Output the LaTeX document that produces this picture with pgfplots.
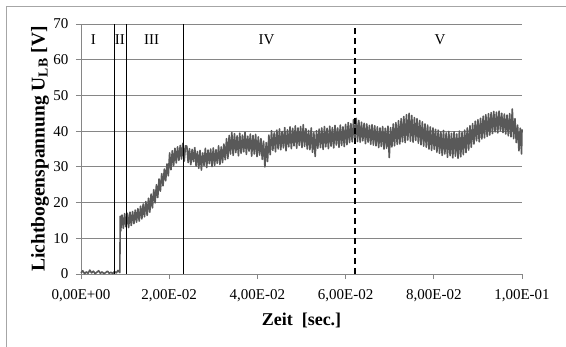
\documentclass[border=0pt]{standalone}
\usepackage{pgfplots}
\pgfplotsset{compat=1.18}
\usepackage{pgfplotstable}
\usepackage{fontspec}
\setmainfont{Liberation Serif}
\definecolor{gridc}{HTML}{868686}
\definecolor{datac}{HTML}{595959}
\definecolor{framec}{HTML}{A6A6A6}

\pgfplotstableread{
t u
0 0.3
0.0004 0.9
0.0008 0.1
0.0012 0.6
0.0016 0.2
0.0020 1.1
0.0024 0.3
0.0028 0.8
0.0032 0.1
0.0036 0.5
0.0040 0.9
0.0044 0.2
0.0048 0.6
0.0052 0.1
0.0056 0.4
0.0060 0.8
0.0064 0.2
0.0068 0.5
0.0072 0.1
0.0076 0.7
0.0080 0.3
0.0084 1.0
0.0088 0.4
0.0089 16.2
0.0090 12.0
0.0093 16.5
0.0096 12.8
0.0099 16.9
0.0102 13.2
0.0105 17.0
0.0108 13.0
0.0111 17.3
0.0114 13.6
0.0117 17.5
0.0120 14.1
0.0123 17.9
0.0126 14.5
0.0129 18.3
0.0132 14.8
0.0135 19.0
0.0138 15.4
0.0141 19.6
0.0144 16.0
0.0147 20.3
0.0150 16.4
0.0153 21.2
0.0156 17.3
0.0159 22.4
0.0162 18.5
0.0165 23.6
0.0168 19.9
0.0171 25.0
0.0174 21.4
0.0177 26.6
0.0180 23.2
0.0183 28.1
0.0186 24.7
0.0189 29.4
0.0192 26.1
0.0195 30.8
0.0198 27.5
0.0201 33.9
0.0204 29.2
0.0207 34.5
0.0210 30.3
0.0213 35.2
0.0216 31.1
0.0219 35.6
0.0222 31.8
0.0225 36.0
0.0228 32.2
0.0231 36.6
0.0234 31.6
0.0237 35.9
0.0240 35.8
0.0243 31.2
0.0246 35.1
0.0249 30.6
0.0252 34.9
0.0255 31.5
0.0258 35.4
0.0261 30.2
0.0264 34.3
0.0267 29.6
0.0270 34.6
0.0273 29.1
0.0276 33.9
0.0279 30.4
0.0282 35.2
0.0285 29.8
0.0288 34.7
0.0291 30.9
0.0294 35.0
0.0297 30.1
0.0300 35.3
0.0303 30.4
0.0306 34.8
0.0309 31.0
0.0312 35.9
0.0315 30.7
0.0318 35.6
0.0321 31.2
0.0324 36.4
0.0327 32.0
0.0330 37.9
0.0333 32.3
0.0336 38.8
0.0339 33.6
0.0342 39.6
0.0345 33.2
0.0348 39.3
0.0351 34.0
0.0354 38.7
0.0357 33.1
0.0360 39.4
0.0363 33.8
0.0366 38.9
0.0369 34.2
0.0372 39.7
0.0375 33.5
0.0378 38.6
0.0381 34.4
0.0384 39.2
0.0387 33.0
0.0390 38.8
0.0393 33.6
0.0396 39.1
0.0399 32.9
0.0402 38.4
0.0405 33.3
0.0408 37.9
0.0411 32.1
0.0414 37.2
0.0417 30.0
0.0420 36.8
0.0423 31.5
0.0426 38.9
0.0429 33.4
0.0432 40.1
0.0435 34.6
0.0438 39.5
0.0441 34.2
0.0444 40.3
0.0447 35.0
0.0450 40.6
0.0453 34.8
0.0456 39.9
0.0459 35.3
0.0462 41.0
0.0465 34.5
0.0468 40.4
0.0471 35.6
0.0474 41.2
0.0477 35.1
0.0480 40.8
0.0483 35.9
0.0486 41.5
0.0489 35.2
0.0492 40.9
0.0495 36.0
0.0498 41.3
0.0501 35.4
0.0504 41.8
0.0507 35.7
0.0510 40.7
0.0513 35.0
0.0516 40.2
0.0519 34.8
0.0522 40.9
0.0525 34.1
0.0528 39.6
0.0531 32.9
0.0534 40.1
0.0537 35.2
0.0540 40.6
0.0543 35.4
0.0546 40.9
0.0549 34.9
0.0552 41.3
0.0555 35.6
0.0558 40.8
0.0561 35.1
0.0564 41.4
0.0567 35.8
0.0570 41.0
0.0573 35.3
0.0576 41.6
0.0579 36.1
0.0582 40.9
0.0585 35.5
0.0588 41.7
0.0591 36.0
0.0594 41.2
0.0597 35.7
0.0600 41.9
0.0603 36.2
0.0606 42.4
0.0609 36.8
0.0612 42.1
0.0615 37.0
0.0618 43.2
0.0621 37.4
0.0624 43.6
0.0627 37.1
0.0630 43.0
0.0633 36.9
0.0636 42.5
0.0639 37.3
0.0642 42.2
0.0645 36.5
0.0648 42.0
0.0651 36.9
0.0654 41.6
0.0657 36.3
0.0660 41.8
0.0663 36.1
0.0666 41.5
0.0669 35.9
0.0672 41.2
0.0675 35.4
0.0678 40.9
0.0681 35.7
0.0684 41.3
0.0687 35.0
0.0690 40.8
0.0693 35.2
0.0696 41.4
0.0699 32.6
0.0702 41.0
0.0705 35.6
0.0708 42.0
0.0711 35.9
0.0714 42.4
0.0717 36.3
0.0720 42.9
0.0723 36.4
0.0726 43.5
0.0729 37.0
0.0732 44.1
0.0735 36.8
0.0738 44.6
0.0741 37.5
0.0744 45.0
0.0747 37.2
0.0750 44.4
0.0753 36.9
0.0756 43.8
0.0759 37.4
0.0762 43.5
0.0765 36.6
0.0768 43.0
0.0771 36.2
0.0774 42.6
0.0777 35.8
0.0780 42.0
0.0783 35.5
0.0786 41.7
0.0789 35.0
0.0792 41.2
0.0795 34.6
0.0798 40.9
0.0801 34.9
0.0804 40.5
0.0807 34.1
0.0810 40.3
0.0813 33.8
0.0816 39.8
0.0819 33.2
0.0822 40.2
0.0825 33.6
0.0828 39.5
0.0831 32.7
0.0834 39.9
0.0837 33.1
0.0840 39.4
0.0843 32.5
0.0846 39.8
0.0849 33.0
0.0852 39.2
0.0855 32.4
0.0858 40.0
0.0861 32.8
0.0864 39.6
0.0867 33.4
0.0870 40.3
0.0873 34.0
0.0876 40.9
0.0879 34.7
0.0882 41.5
0.0885 35.5
0.0888 42.1
0.0891 36.4
0.0894 42.8
0.0897 37.3
0.0900 43.2
0.0903 37.0
0.0906 43.6
0.0909 37.8
0.0912 44.2
0.0915 38.1
0.0918 44.6
0.0921 38.5
0.0924 44.9
0.0927 38.9
0.0930 45.2
0.0933 39.3
0.0936 45.5
0.0939 39.8
0.0942 45.3
0.0945 39.5
0.0948 45.6
0.0951 40.1
0.0954 45.0
0.0957 39.6
0.0960 44.8
0.0963 39.2
0.0966 44.5
0.0969 38.7
0.0972 44.9
0.0975 38.4
0.0978 46.2
0.0981 37.9
0.0984 43.5
0.0987 36.8
0.0990 41.7
0.0993 34.5
0.0996 40.8
0.0999 33.6
0.1000 40.5
}\datatable

\begin{document}
\begin{tikzpicture}
\path[use as bounding box] (0,0) rectangle (566bp,347bp);
\draw[framec, line width=1pt] (6bp,0) -- (6bp,340bp) -- (566bp,340bp);
\begin{axis}[
  at={(81bp,73bp)}, anchor=south west,
  scale only axis, width=441bp, height=250bp,
  xmin=0, xmax=0.1, ymin=0, ymax=70,
  axis lines*=left,
  axis line style={gridc, line width=1pt},
  ymajorgrids, major grid style={gridc, line width=1pt},
  xtick={0,0.02,0.04,0.06,0.08,0.1},
  xticklabels={{0,00E+00},{2,00E-02},{4,00E-02},{6,00E-02},{8,00E-02},{1,00E-01}},
  ytick={0,10,20,30,40,50,60,70},
  tick align=outside, major tick length=5bp,
  tick style={gridc, line width=1pt},
  ticklabel style={font=\fontsize{15bp}{18bp}\selectfont},
  xticklabel style={yshift=-7bp},
  yticklabel style={xshift=-4bp},
  /pgf/number format/assume math mode=true,
  xlabel={Zeit\ \ [sec.]},
  ylabel={Lichtbogenspannung U\textsubscript{LB} [V]},
  label style={font=\fontsize{18bp}{21bp}\selectfont\bfseries},
  xlabel style={at={(axis description cs:0.5,-0.184)}, anchor=center},
  ylabel style={at={(axis description cs:-0.093,0.5)}, anchor=center, font=\fontsize{19.5bp}{22bp}\selectfont\bfseries},
  clip=false,
]
\addplot[datac, line width=1.6pt, line join=round] table[x=t,y=u]{\datatable};
\addplot[black, line width=1.4pt] coordinates {(0.0076,0) (0.0076,70)};
\addplot[black, line width=1.4pt] coordinates {(0.0103,0) (0.0103,70)};
\addplot[black, line width=1.4pt] coordinates {(0.0232,0) (0.0232,70)};
\addplot[black, line width=2pt, dash pattern=on 6bp off 4bp] coordinates {(0.0621,0) (0.0621,70)};
\node[font=\fontsize{15bp}{18bp}\selectfont] at (axis cs:0.0028,65.5) {I};
\node[font=\fontsize{15bp}{18bp}\selectfont] at (axis cs:0.0088,65.5) {II};
\node[font=\fontsize{15bp}{18bp}\selectfont] at (axis cs:0.0160,65.5) {III};
\node[font=\fontsize{15bp}{18bp}\selectfont] at (axis cs:0.0421,65.5) {IV};
\node[font=\fontsize{15bp}{18bp}\selectfont] at (axis cs:0.0814,65.5) {V};
\end{axis}
\end{tikzpicture}
\end{document}
